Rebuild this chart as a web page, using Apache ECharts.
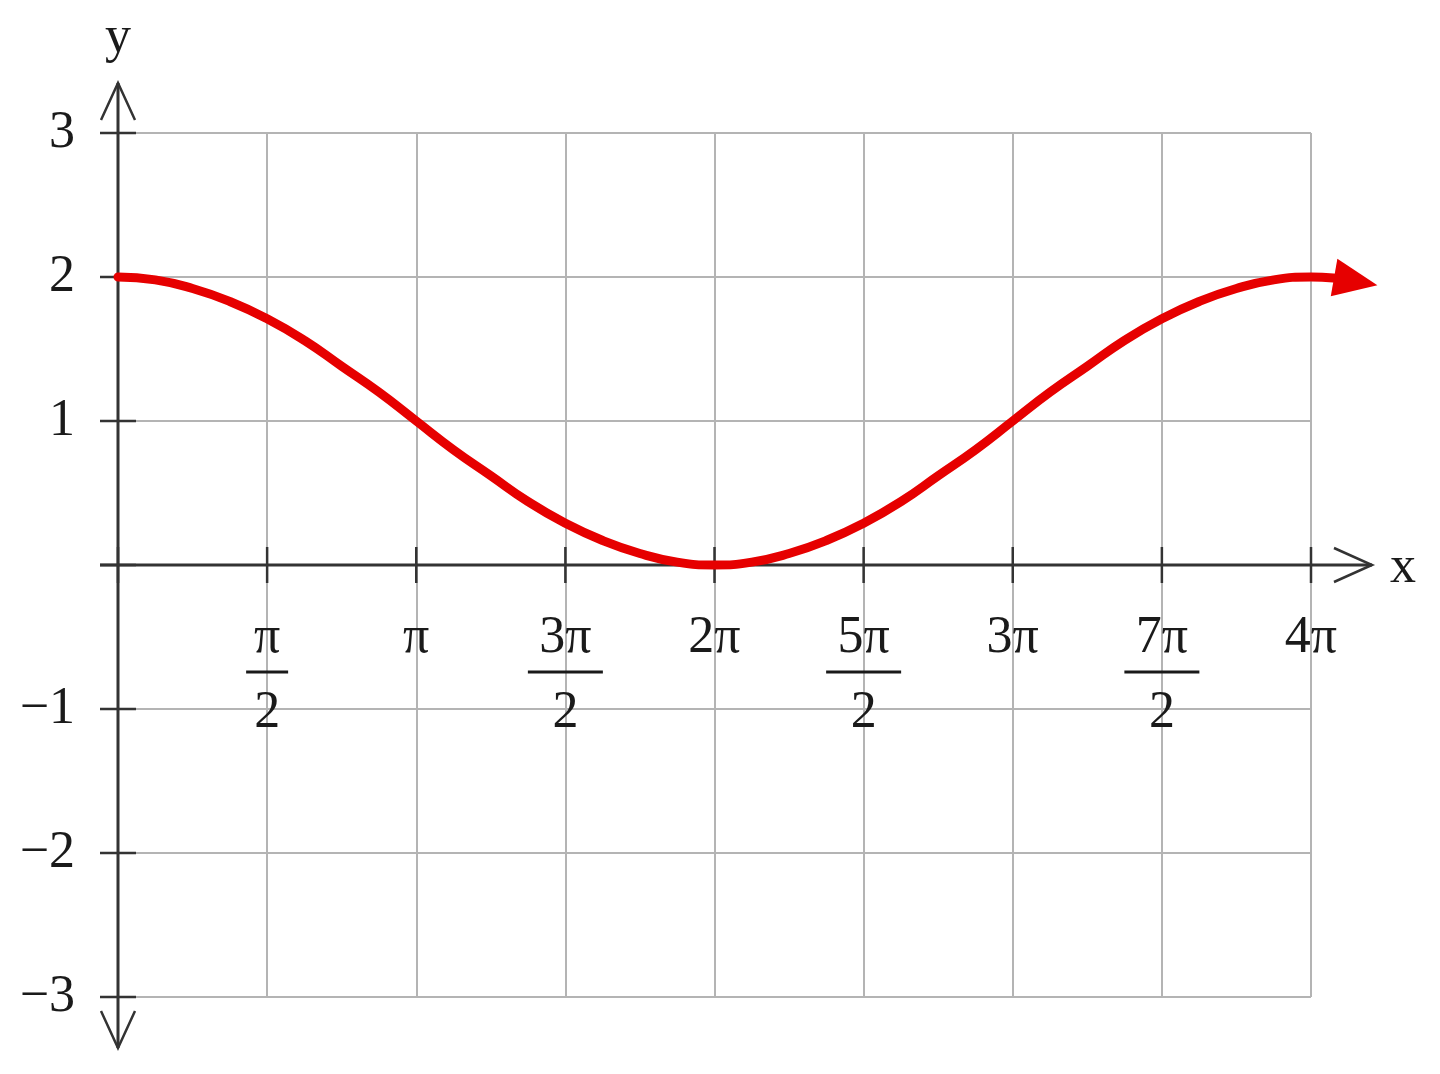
<!DOCTYPE html>
<html><head><meta charset="utf-8">
<script src="https://cdn.jsdelivr.net/npm/echarts@6/dist/echarts.min.js"></script>
<style>html,body{margin:0;padding:0;background:#fff}#c{width:1440px;height:1074px}</style>
</head><body><div id="c"></div>
<script>
// x in multiples of pi, y
const xPi   = [0, 0.125, 0.25, 0.375, 0.5, 0.625, 0.75, 0.875, 1, 1.125, 1.25, 1.375, 1.5, 1.625, 1.75, 1.875, 2,
               2.125, 2.25, 2.375, 2.5, 2.625, 2.75, 2.875, 3, 3.125, 3.25, 3.375, 3.5, 3.625, 3.75, 3.875, 4, 4.15];
const yVals = [2, 1.98, 1.92, 1.83, 1.71, 1.56, 1.38, 1.2, 1, 0.8, 0.62, 0.44, 0.29, 0.17, 0.08, 0.02, 0,
               0.02, 0.08, 0.17, 0.29, 0.44, 0.62, 0.8, 1, 1.2, 1.38, 1.56, 1.71, 1.83, 1.92, 1.98, 2, 1.97];

const xTickValues = [0, 0.5, 1, 1.5, 2, 2.5, 3, 3.5, 4];
const xTickNum    = ['', 'π', 'π', '3π', '2π', '5π', '3π', '7π', '4π'];
const xTickDen    = ['', '2', '', '2', '', '2', '', '2', ''];
const yTickValues = [-3, -2, -1, 0, 1, 2, 3];
const yTickLabels = ['−3', '−2', '−1', '', '1', '2', '3'];
const xAxisName = 'x';
const yAxisName = 'y';

const FONT = "'Liberation Serif','Times New Roman',serif";
const FS = 52;
const TXT = '#1a1a1a';
const AXC = '#333333';
const chart = echarts.init(document.getElementById('c'));

// grid geometry (styling)
const G = { left: 118, right: 129, top: 133, bottom: 77 };
const W = 1440 - G.left - G.right;
const X_MIN = xTickValues[0], X_MAX = xTickValues[xTickValues.length - 1];
const EXT = 0.2; // extra x range (in pi units) for the curve's arrow tail
const rightExt = G.right - W * EXT / (X_MAX - X_MIN);

function xLabel(v) {
  const i = xTickValues.findIndex(t => Math.abs(t - v) < 1e-6);
  if (i < 0 || !xTickNum[i]) return '';
  if (!xTickDen[i]) return '{num|' + xTickNum[i] + '}';
  const bar = xTickNum[i].length > 1 ? 'barL' : 'barS';
  return '{num|' + xTickNum[i] + '}\n{' + bar + '|\u00a0}\n{den|' + xTickDen[i] + '}';
}
function yLabel(v) {
  const i = yTickValues.findIndex(t => Math.abs(t - v) < 1e-6);
  return i < 0 ? '' : yTickLabels[i];
}

const last = xPi.length - 1;
const seriesData = xPi.map((x, i) => i === last
  ? { value: [x, yVals[i]], symbol: 'triangle', symbolSize: [38, 44], symbolRotate: -100 }
  : [x, yVals[i]]);

chart.setOption({
  animation: false,
  grid: [
    { left: G.left, right: G.right, top: G.top, bottom: G.bottom, containLabel: false, outerBoundsMode: 'none' },
    { left: G.left, right: rightExt, top: G.top, bottom: G.bottom, containLabel: false, outerBoundsMode: 'none' }
  ],
  xAxis: [{
    gridIndex: 0, type: 'value', min: X_MIN, max: X_MAX, interval: 0.5, position: 'bottom', offset: 0,
    axisLine: { show: false, onZero: false },
    axisTick: { show: false },
    splitLine: { show: true, lineStyle: { color: '#b4b4b4', width: 2 } },
    axisLabel: {
      show: true, showMinLabel: true, showMaxLabel: true, margin: 51,
      formatter: xLabel, color: TXT, fontFamily: FONT, fontSize: FS, align: 'center',
      rich: {
        num: { fontFamily: FONT, fontSize: FS, lineHeight: 44, color: TXT },
        barS: { width: 42, height: 3, lineHeight: 24, backgroundColor: TXT, fontSize: 4 },
        barL: { width: 75, height: 3, lineHeight: 24, backgroundColor: TXT, fontSize: 4 },
        den: { fontFamily: FONT, fontSize: FS, lineHeight: 58, color: TXT }
      }
    }
  }, {
    gridIndex: 1, type: 'value', min: X_MIN, max: X_MAX + EXT, show: false
  }],
  yAxis: [{
    gridIndex: 0, type: 'value', min: -3, max: 3, interval: 1,
    axisLine: { show: false },
    axisTick: { show: false },
    splitLine: { show: true, lineStyle: { color: '#b4b4b4', width: 2 } },
    axisLabel: { margin: 43, formatter: yLabel, color: TXT, fontFamily: FONT, fontSize: FS }
  }, {
    gridIndex: 1, type: 'value', min: -3, max: 3, show: false
  }],
  series: [{
    type: 'line', xAxisIndex: 1, yAxisIndex: 1, data: seriesData, smooth: 0.5, clip: false,
    symbol: 'none', showSymbol: true,
    lineStyle: { color: '#e60000', width: 9, cap: 'round' },
    itemStyle: { color: '#e60000' },
    z: 5
  }]
});

function px(x, y) { return chart.convertToPixel({ gridIndex: 0 }, [x, y]); }
const g = [];
const axisStyle = { stroke: AXC, lineWidth: 3 };
const tickStyle = { stroke: AXC, lineWidth: 2.5 };
const [ox, oy] = px(0, 0);
const xEnd = px(X_MAX, 0)[0];
const yTop = px(0, yTickValues[yTickValues.length - 1])[1];
const yBot = px(0, yTickValues[0])[1];
const xTip = xEnd + 61, yTipTop = yTop - 50, yTipBot = yBot + 51;

g.push({ type: 'line', shape: { x1: ox - 18, y1: oy, x2: xTip, y2: oy }, style: axisStyle });
g.push({ type: 'line', shape: { x1: ox, y1: yTipTop, x2: ox, y2: yTipBot }, style: axisStyle });
xTickValues.forEach(v => {
  const p = px(v, 0);
  g.push({ type: 'line', shape: { x1: p[0], y1: oy - 18, x2: p[0], y2: oy + 18 }, style: tickStyle });
});
yTickValues.forEach(v => {
  const p = px(0, v);
  g.push({ type: 'line', shape: { x1: ox - 18, y1: p[1], x2: ox + 18, y2: p[1] }, style: tickStyle });
});
const chev = { stroke: AXC, lineWidth: 2.5, fill: null };
g.push({ type: 'polyline', shape: { points: [[xTip - 38, oy - 17], [xTip, oy], [xTip - 38, oy + 17]] }, style: chev });
g.push({ type: 'polyline', shape: { points: [[ox - 17, yTipTop + 37], [ox, yTipTop], [ox + 17, yTipTop + 37]] }, style: chev });
g.push({ type: 'polyline', shape: { points: [[ox - 17, yTipBot - 37], [ox, yTipBot], [ox + 17, yTipBot - 37]] }, style: chev });
g.push({ type: 'text', x: xTip + 31, y: oy + 3, style: { text: xAxisName, font: FS + 'px ' + FONT, fill: TXT, align: 'center', verticalAlign: 'middle' } });
g.push({ type: 'text', x: ox, y: yTipTop - 45, style: { text: yAxisName, font: FS + 'px ' + FONT, fill: TXT, align: 'center', verticalAlign: 'middle' } });
g.forEach(e => { e.silent = true; e.z = 1; });
// move the x-axis labels up to the zero line
chart.setOption({ xAxis: [{ offset: oy - yBot }, {}], graphic: { elements: g } });
</script>
</body></html>
